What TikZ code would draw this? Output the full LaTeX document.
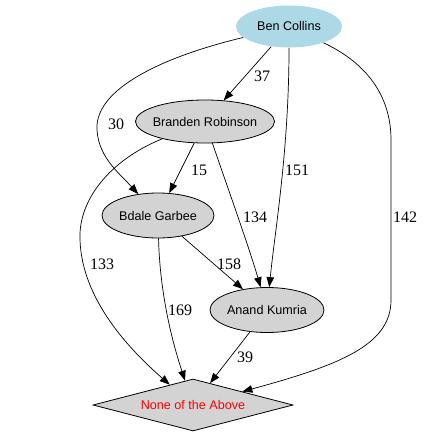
\documentclass[tikz,border=0pt]{standalone}
\usepackage{fontspec}
\setmainfont{Liberation Serif}
\newfontfamily\nodefont{Liberation Sans}
\usetikzlibrary{shapes.geometric,arrows.meta}
\definecolor{nodegray}{HTML}{D3D3D3}
\definecolor{benblue}{HTML}{ADD8E6}
\definecolor{nonered}{HTML}{FF0000}
\tikzset{
  person/.style={ellipse, draw=black, line width=0.8pt, fill=nodegray, inner sep=0pt,
    font=\nodefont\fontsize{12.6}{14}\selectfont},
  choice/.style={diamond, draw=black, line width=0.8pt, fill=nodegray, inner sep=0pt,
    font=\nodefont\fontsize{12.6}{14}\selectfont, text=nonered},
  edge/.style={line width=0.7pt, -{Triangle[length=10pt,width=7.5pt]}},
  elabel/.style={font=\fontsize{16}{18}\selectfont, inner sep=0pt}
}
\begin{document}
\begin{tikzpicture}[x=1pt,y=-1pt]
\useasboundingbox[fill=white] (0,0) rectangle (425,435);
\node[person, draw=none, fill=benblue, minimum width=106pt, minimum height=42pt] (ben) at (289,26.5) {\makebox[0pt]{Ben Collins}};
\node[person, minimum width=139pt, minimum height=43pt] (branden) at (205,121.5) {\makebox[0pt]{Branden Robinson}};
\node[person, minimum width=112pt, minimum height=45pt] (bdale) at (158,215.5) {\makebox[0pt]{Bdale Garbee}};
\node[person, minimum width=114pt, minimum height=45pt] (anand) at (267,310) {\makebox[0pt]{Anand Kumria}};
\node[choice, minimum width=200pt, minimum height=52pt] (none) at (193,405) {\makebox[0pt]{None of the Above}};

\draw[edge] (ben) -- (branden);
\draw[edge] (ben) .. controls (170,55) and (100,85) .. (97,125) .. controls (96,155) and (118,172) .. (bdale);
\draw[edge] (ben) .. controls (289,150) and (275,230) .. (anand);
\draw[edge] (ben) .. controls (360,60) and (391,90) .. (391,140) -- (391,300) .. controls (391,345) and (340,365) .. (none);
\draw[edge] (branden) -- (bdale);
\draw[edge] (branden) .. controls (225,180) and (250,250) .. (anand);
\draw[edge] (branden) .. controls (110,160) and (78,200) .. (80,240) .. controls (82,300) and (130,350) .. (none);
\draw[edge] (bdale) -- (anand);
\draw[edge] (bdale) .. controls (160,300) and (175,350) .. (none);
\draw[edge] (anand) -- (none);

\node[elabel] (l37) at (262,76) {37};
\node[elabel] (l30) at (116,124) {30};
\node[elabel] (l151) at (297,170) {151};
\node[elabel] (l142) at (405,217) {142};
\node[elabel] (l15) at (199,170) {15};
\node[elabel] (l134) at (255,217) {134};
\node[elabel] (l133) at (102,264) {133};
\node[elabel] (l158) at (229,264) {158};
\node[elabel] (l169) at (180,310) {169};
\node[elabel] (l39) at (245,357) {39};
\end{tikzpicture}
\end{document}
